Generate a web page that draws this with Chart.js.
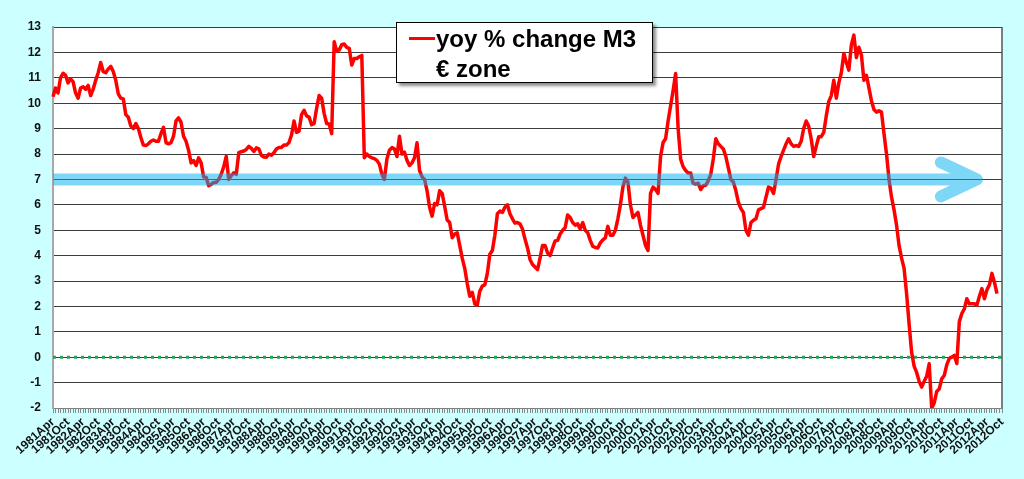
<!DOCTYPE html>
<html><head><meta charset="utf-8">
<script src="https://cdn.jsdelivr.net/npm/chart.js@4.4.1/dist/chart.umd.min.js"></script>
<style>
html,body{margin:0;padding:0;background:#ccffff;}
#wrap{position:relative;width:1024px;height:479px;}
#legend{position:absolute;left:396px;top:22px;width:257px;height:61px;box-sizing:border-box;border:1px solid #000;background:#fff;box-shadow:3px 3px 3px rgba(0,0,0,0.45);font:bold 24px "Liberation Sans",Arial,sans-serif;color:#000;}
#legend .sw{position:absolute;left:12px;top:14px;width:26px;height:3px;background:#ff0000;}
#legend .t{position:absolute;left:39px;line-height:30px;white-space:nowrap;}
</style></head>
<body>
<div id="wrap">
<canvas id="c" width="1024" height="479"></canvas>
<div id="legend"><span class="sw"></span><span class="t" style="top:1px">yoy % change M3</span><span class="t" style="top:31px">€ zone</span></div>
</div>
<script>
// ---- data ----
const seriesName = 'yoy % change M3 € zone';
const startYear = 1981;
const startMonth = 3;          // April (0-based)
const categoryCount = 379;     // 1981 Apr .. 2012 Oct
const monthNames = ['Jan','Feb','Mar','Apr','May','Jun','Jul','Aug','Sep','Oct','Nov','Dec'];
const labelledMonths = ['Apr','Oct'];
const yTickMin = -2, yTickMax = 13, yTickStep = 1;
const referenceLevel = 7;      // blue arrow level
const arrowTipCategory = '2011Dec';
const zeroLevel = 0;           // green dotted line

const m3Yoy = [
  10.25,10.6,10.4,11.0,11.18,11.1,10.8,10.95,10.85,10.4,10.2,10.6,
  10.65,10.55,10.7,10.3,10.55,10.9,11.2,11.6,11.25,11.2,11.35,11.45,
  11.25,10.9,10.37,10.2,10.17,9.55,9.45,9.1,9.0,9.2,9.0,8.65,
  8.35,8.33,8.4,8.5,8.55,8.5,8.5,8.8,9.05,8.45,8.4,8.45,
  8.7,9.3,9.42,9.25,8.7,8.5,8.15,7.65,7.74,7.55,7.85,7.65,
  7.1,7.08,6.75,6.8,6.88,6.88,7.0,7.2,7.5,7.9,7.0,7.15,
  7.26,7.2,8.05,8.09,8.12,8.18,8.3,8.22,8.1,8.24,8.2,7.95,
  7.88,7.87,8.0,7.95,8.05,8.2,8.26,8.26,8.35,8.35,8.45,8.75,
  9.3,8.85,8.9,9.55,9.72,9.5,9.45,9.15,9.2,9.8,10.3,10.2,
  9.6,9.2,9.18,8.8,12.42,12.05,12.1,12.3,12.33,12.2,12.16,11.5,
  11.76,11.76,11.83,11.88,7.85,8.0,7.9,7.85,7.82,7.75,7.6,7.2,
  7.0,7.8,8.15,8.25,8.2,7.9,8.7,8.0,8.07,7.75,7.55,7.65,
  7.85,8.44,7.35,7.1,7.0,6.55,5.9,5.55,6.05,6.0,6.55,6.45,
  5.95,5.4,5.3,4.7,4.85,4.9,4.4,3.9,3.5,2.9,2.4,2.55,
  2.1,2.05,2.6,2.8,2.85,3.3,4.05,4.2,4.8,5.65,5.75,5.7,
  5.9,6.0,5.65,5.45,5.28,5.3,5.25,5.05,4.65,4.3,3.85,3.65,
  3.55,3.45,3.9,4.4,4.4,4.1,4.0,4.3,4.58,4.6,4.85,5.0,
  5.1,5.6,5.5,5.3,5.2,5.25,5.05,5.3,5.0,4.9,4.6,4.36,
  4.32,4.3,4.5,4.62,4.7,5.15,4.8,4.8,5.0,5.45,6.0,6.7,
  7.05,6.9,6.0,5.5,5.6,5.7,5.2,4.8,4.4,4.2,6.45,6.7,
  6.6,6.45,7.9,8.45,8.6,9.3,9.9,10.5,11.17,9.0,7.8,7.5,
  7.35,7.25,7.25,6.85,6.81,6.85,6.6,6.75,6.77,6.95,7.2,7.8,
  8.6,8.4,8.3,8.2,7.9,7.45,7.0,6.9,6.55,6.1,5.85,5.7,
  5.0,4.8,5.3,5.39,5.45,5.8,5.85,5.9,6.3,6.7,6.65,6.45,
  7.0,7.6,7.9,8.15,8.4,8.6,8.4,8.3,8.33,8.3,8.5,9.0,
  9.3,9.1,8.6,7.9,8.3,8.68,8.68,8.85,9.5,10.06,10.3,10.9,
  10.2,10.8,11.2,11.96,11.6,11.3,12.3,12.68,11.8,12.2,11.9,10.9,
  11.1,10.6,10.1,9.75,9.65,9.7,9.65,8.8,8.0,7.0,6.3,5.8,
  5.2,4.4,3.9,3.5,2.5,1.3,0.2,-0.35,-0.6,-0.95,-1.18,-0.95,
  -0.75,-0.26,-2.0,-1.8,-1.35,-1.25,-0.85,-0.72,-0.3,-0.05,0.0,0.07,
  -0.25,1.4,1.72,1.9,2.3,2.1,2.1,2.1,2.05,2.4,2.7,2.3,
  2.65,2.85,3.3,2.95,2.5
];

const categories = [];
for (let k = 0; k < categoryCount; k++) {
  const m = (startMonth + k) % 12;
  const y = startYear + Math.floor((startMonth + k) / 12);
  categories.push(y + monthNames[m]);
}

// ---- plugins ----
const plotBg = {
  id: 'plotBg',
  beforeDraw(chart) {
    const {ctx, chartArea: a} = chart;
    ctx.save();
    ctx.fillStyle = '#ffffff';
    ctx.fillRect(a.left, a.top, a.right - a.left, a.bottom - a.top);
    ctx.restore();
  },
  afterDraw(chart) {
    const {ctx, chartArea: a} = chart;
    ctx.save();
    ctx.strokeStyle = '#555';
    ctx.lineWidth = 1.5;
    ctx.beginPath();
    ctx.moveTo(a.right, a.top);
    ctx.lineTo(a.right, a.bottom);
    ctx.stroke();
    ctx.restore();
  }
};
const zeroLine = {
  id: 'zeroLine',
  beforeDatasetsDraw(chart) {
    const {ctx, chartArea: a, scales} = chart;
    const y = scales.y.getPixelForValue(zeroLevel);
    ctx.save();
    ctx.strokeStyle = '#22a65a';
    ctx.lineWidth = 3;
    ctx.setLineDash([3, 4]);
    ctx.beginPath();
    ctx.moveTo(a.left, y);
    ctx.lineTo(a.right, y);
    ctx.stroke();
    ctx.restore();
  }
};
const arrow = {
  id: 'arrow',
  afterDatasetsDraw(chart) {
    const {ctx, chartArea: a, scales} = chart;
    const y = scales.y.getPixelForValue(referenceLevel);
    const tip = scales.x.getPixelForValue(categories.indexOf(arrowTipCategory));
    ctx.save();
    ctx.beginPath();
    ctx.rect(a.left, a.top, a.right - a.left, a.bottom - a.top);
    ctx.clip();
    ctx.strokeStyle = 'rgba(0,176,240,0.5)';
    ctx.lineWidth = 12;
    ctx.lineCap = 'round';
    ctx.lineJoin = 'round';
    ctx.beginPath();
    ctx.moveTo(a.left - 8, y);
    ctx.lineTo(tip, y);
    ctx.moveTo(tip - 36, y - 17);
    ctx.lineTo(tip, y);
    ctx.lineTo(tip - 36, y + 17);
    ctx.stroke();
    ctx.restore();
  }
};

const fontFamily = '"Liberation Sans", Arial, sans-serif';

new Chart(document.getElementById('c'), {
  type: 'line',
  data: {
    labels: categories,
    datasets: [{
      label: seriesName,
      data: m3Yoy,
      borderColor: '#ff0000',
      borderWidth: 3.5,
      pointRadius: 0,
      tension: 0,
      borderJoinStyle: 'round',
      fill: false
    }]
  },
  options: {
    responsive: false,
    animation: false,
    devicePixelRatio: 1,
    layout: {padding: {top: 27, right: 22, left: 0, bottom: 0}},
    plugins: {legend: {display: false}, tooltip: {enabled: false}},
    scales: {
      x: {
        type: 'category',
        offset: false,
        afterFit(s) { s.height = 71; },
        grid: {drawOnChartArea: false, drawTicks: true, tickLength: 5, color: '#888', lineWidth: 1},
        border: {display: true, color: '#808080', width: 1},
        ticks: {
          autoSkip: false,
          minRotation: 42,
          maxRotation: 42,
          padding: 2,
          color: '#111',
          font: {family: fontFamily, size: 12, weight: 'bold'},
          callback(v, i) {
            const lab = categories[i];
            return labelledMonths.includes(lab.slice(4)) ? lab : '';
          }
        }
      },
      y: {
        min: yTickMin,
        max: yTickMax,
        afterFit(s) { s.width = 53; },
        grid: {drawTicks: false, color: '#3c3c3c', lineWidth: 1},
        border: {display: true, color: '#a8a8a8', width: 2},
        ticks: {
          stepSize: yTickStep,
          padding: 12,
          color: '#111',
          font: {family: fontFamily, size: 12, weight: 'bold'}
        }
      }
    }
  },
  plugins: [plotBg, zeroLine, arrow]
});
</script>
</body></html>
